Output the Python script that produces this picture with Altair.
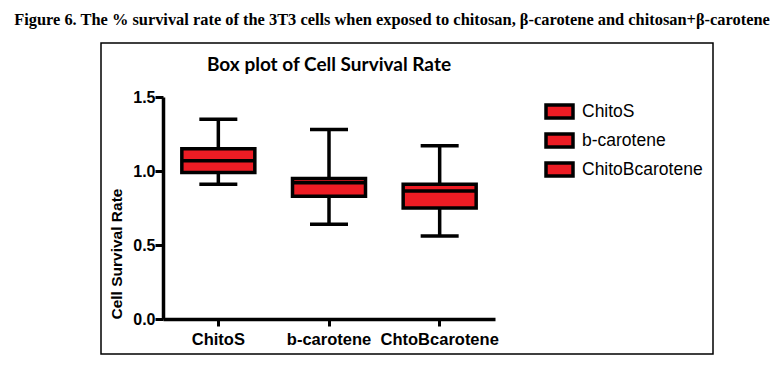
import altair as alt
import pandas as pd

categories = ["ChitoS", "b-carotene", "ChtoBcarotene"]
legend_labels = ["ChitoS", "b-carotene", "ChitoBcarotene"]
mins = [0.91, 0.64, 0.56]
q1s = [0.99, 0.83, 0.75]
medians = [1.07, 0.92, 0.865]
q3s = [1.15, 0.95, 0.91]
maxs = [1.35, 1.28, 1.17]

caption = "Figure 6. The % survival rate of the 3T3 cells when exposed to chitosan, \u03b2-carotene and chitosan+\u03b2-carotene"
plot_title = "Box plot of Cell Survival Rate"

RED = "#ED1C24"
df = pd.DataFrame({
    "group": categories,
    "legend": legend_labels,
    "min": mins, "q1": q1s, "median": medians, "q3": q3s, "max": maxs,
})

W, H = 332, 222
x = alt.X("group:N", sort=categories,
          scale=alt.Scale(domain=categories, paddingInner=0, paddingOuter=0),
          axis=alt.Axis(title=None, labelAngle=0, labelFont="Liberation Sans", labelFontWeight="bold",
                        labelFontSize=16.5, labelColor="black", labelPadding=5, labelOverlap=False, labelBound=False,
                        tickSize=7, tickWidth=3, tickColor="black", domainWidth=3.5, domainColor="black"))
yscale = alt.Scale(domain=[0, 1.5], nice=False, zero=True)

base = alt.Chart(df)

whisk = base.mark_rule(color="black", strokeWidth=3.5).encode(
    x=x,
    y=alt.Y("min:Q", scale=yscale,
            axis=alt.Axis(values=[0, 0.5, 1.0, 1.5], format=".1f", grid=False, title="Cell Survival Rate",
                          titleFont="Liberation Sans", titleFontWeight="bold", titleFontSize=15.5,
                          titleColor="black", titleAnchor="start", titlePadding=8,
                          labelFont="Liberation Sans", labelFontWeight="bold", labelFontSize=16,
                          labelColor="black", labelPadding=0, tickSize=8, tickWidth=3, tickColor="black",
                          domainWidth=3.5, domainColor="black")),
    y2="max:Q",
)

box = base.mark_bar(size=73, stroke="black", strokeWidth=3.5).encode(
    x=x,
    y=alt.Y("q1:Q", scale=yscale),
    y2="q3:Q",
    color=alt.Color("legend:N", scale=alt.Scale(domain=legend_labels, range=[RED, RED, RED]),
                    legend=alt.Legend(title=None, orient="none", legendX=381, legendY=-1,
                                      symbolType="M-1,-0.48H1V0.48H-1Z", symbolSize=729,
                                      symbolStrokeColor="black", symbolStrokeWidth=3.5,
                                      symbolOpacity=1, labelFont="Liberation Sans", labelFontSize=17.5,
                                      labelColor="black", labelOffset=7, rowPadding=-2, padding=0)),
)

med = base.mark_tick(size=73, thickness=3.5, color="black", opacity=1).encode(
    x=x, y=alt.Y("median:Q", scale=yscale))
capmin = base.mark_tick(size=38, thickness=3.5, color="black", opacity=1).encode(
    x=x, y=alt.Y("min:Q", scale=yscale))
capmax = base.mark_tick(size=38, thickness=3.5, color="black", opacity=1).encode(
    x=x, y=alt.Y("max:Q", scale=yscale))

one = alt.Chart(pd.DataFrame({"t": [caption], "s": [plot_title]}))
frame = one.mark_rect(filled=False, stroke="black", strokeWidth=1.5).encode(
    x=alt.value(-62), x2=alt.value(550), y=alt.value(-54), y2=alt.value(257))
cap = one.mark_text(font="Liberation Serif", fontWeight="bold", fontSize=16.4, color="black",
                    align="center", baseline="middle").encode(
    text="t:N", x=alt.value(229), y=alt.value(-77))
ttl = one.mark_text(font="Lato", fontWeight="bold", fontSize=19, color="black",
                    align="center", baseline="middle").encode(
    text="s:N", x=alt.value(166), y=alt.value(-32))

chart = alt.layer(frame, whisk, box, med, capmin, capmax, cap, ttl).properties(
    width=W, height=H,
    background="white",
    autosize=alt.AutoSizeParams(type="none"),
    padding={"left": 155, "top": 89, "right": 281, "bottom": 38},
).configure_view(strokeWidth=0, stroke=None)

chart.save("out.html", embed_options={"renderer": "svg", "actions": False})
